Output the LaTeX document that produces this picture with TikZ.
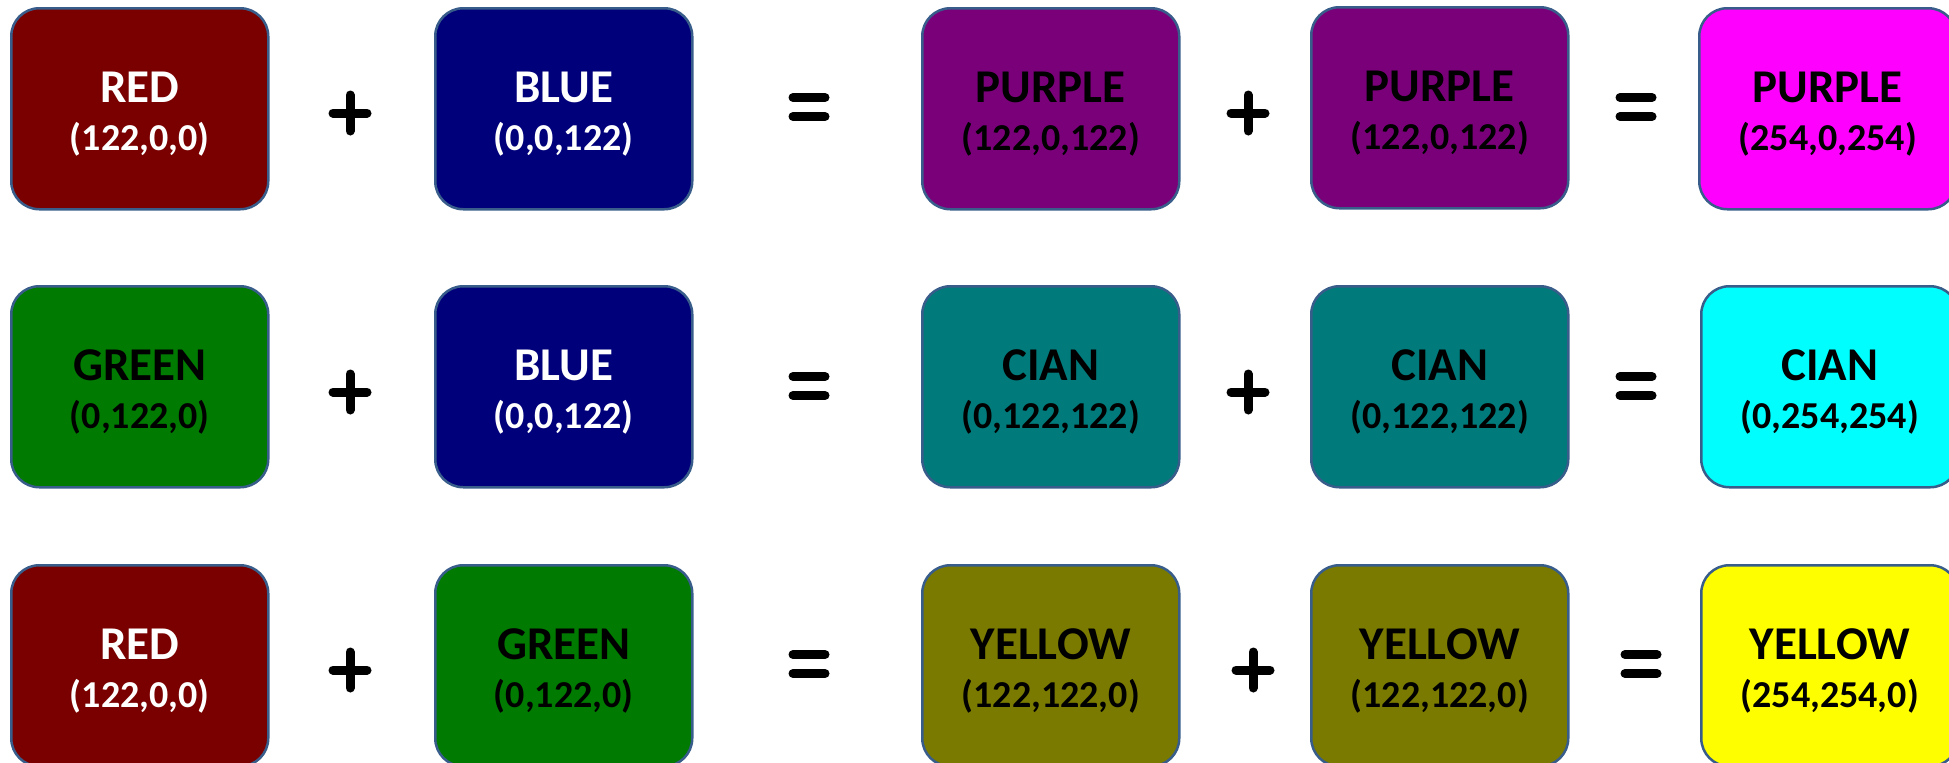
\documentclass[tikz,border=0pt]{standalone}
\usepackage{fontspec}
\setmainfont{Carlito}
\usetikzlibrary{calc}
\definecolor{edge}{RGB}{56,93,138}
\definecolor{cRed}{RGB}{122,0,0}
\definecolor{cBlue}{RGB}{0,0,122}
\definecolor{cGreen}{RGB}{0,122,0}
\definecolor{cPurple}{RGB}{122,0,122}
\definecolor{cTeal}{RGB}{0,122,122}
\definecolor{cOlive}{RGB}{122,122,0}
\definecolor{cMagenta}{RGB}{254,0,254}
\definecolor{cCyan}{RGB}{0,254,254}
\definecolor{cYellow}{RGB}{254,254,0}
\tikzset{
  cbox/.style={draw=edge, line width=2.5pt, rounded corners=28pt,
    minimum width=257pt, minimum height=201pt, inner sep=0pt, anchor=north west},
  cname/.style={anchor=base, inner sep=0pt, font=\bfseries\fontsize{47}{50}\selectfont},
  cnum/.style={anchor=base, inner sep=0pt, font=\bfseries\fontsize{38}{42}\selectfont},
  opstroke/.style={line width=9pt, line cap=round, black}
}
\newcommand\colbox[7]{%
  \node[cbox, fill=#4] (#1) at (#2,#3) {};
  \node[cname, text=#5] (#1n) at ($(#1.center)+(0,-6)$) {#6};
  \node[cnum, text=#5] (#1v) at ($(#1.center)+(0,42)$) {#7};
}
\newcommand\plusop[3]{%
  \coordinate (#1) at (#2,#3);
  \draw[opstroke] ($(#1)+(-17,0)$) -- ($(#1)+(17,0)$);
  \draw[opstroke] ($(#1)+(0,-18)$) -- ($(#1)+(0,18)$);
}
\newcommand\eqop[3]{%
  \coordinate (#1) at (#2,#3);
  \draw[opstroke] ($(#1)+(-16,-9.5)$) -- ($(#1)+(16,-9.5)$);
  \draw[opstroke] ($(#1)+(-16,9.5)$) -- ($(#1)+(16,9.5)$);
}
\begin{document}
\begin{tikzpicture}[x=1pt, y=-1pt]
\useasboundingbox (0,0) rectangle (1949,763);
% Row 1
\colbox{a1}{10}{7}{cRed}{white}{RED}{(122,0,0)}
\colbox{a2}{434}{7}{cBlue}{white}{BLUE}{(0,0,122)}
\colbox{a3}{921}{7}{cPurple}{black}{PURPLE}{(122,0,122)}
\colbox{a4}{1310}{6}{cPurple}{black}{PURPLE}{(122,0,122)}
\colbox{a5}{1698}{7}{cMagenta}{black}{PURPLE}{(254,0,254)}
\plusop{ap1}{350}{113}
\eqop{ae1}{809}{107}
\plusop{ap2}{1248}{113}
\eqop{ae2}{1636}{107}
% Row 2
\colbox{b1}{10}{285}{cGreen}{black}{GREEN}{(0,122,0)}
\colbox{b2}{434}{285}{cBlue}{white}{BLUE}{(0,0,122)}
\colbox{b3}{921}{285}{cTeal}{black}{CIAN}{(0,122,122)}
\colbox{b4}{1310}{285}{cTeal}{black}{CIAN}{(0,122,122)}
\colbox{b5}{1700}{285}{cCyan}{black}{CIAN}{(0,254,254)}
\plusop{bp1}{350}{392}
\eqop{be1}{809}{386}
\plusop{bp2}{1248}{392}
\eqop{be2}{1636}{386}
% Row 3
\colbox{c1}{10}{564}{cRed}{white}{RED}{(122,0,0)}
\colbox{c2}{434}{564}{cGreen}{black}{GREEN}{(0,122,0)}
\colbox{c3}{921}{564}{cOlive}{black}{YELLOW}{(122,122,0)}
\colbox{c4}{1310}{564}{cOlive}{black}{YELLOW}{(122,122,0)}
\colbox{c5}{1700}{564}{cYellow}{black}{YELLOW}{(254,254,0)}
\plusop{cp1}{350}{670}
\eqop{ce1}{809}{664}
\plusop{cp2}{1253}{670}
\eqop{ce2}{1641}{664}
\end{tikzpicture}
\end{document}
